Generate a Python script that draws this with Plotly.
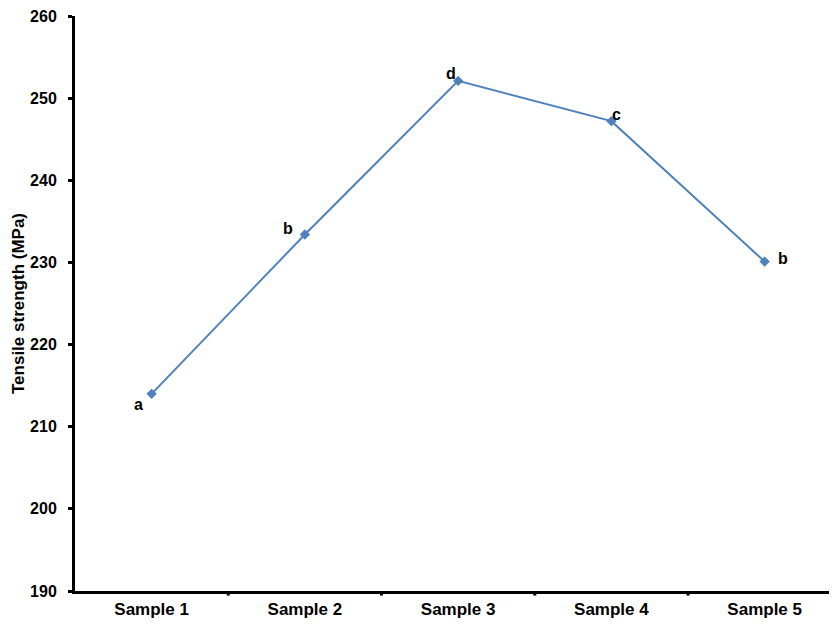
import plotly.graph_objects as go

samples = ["Sample 1", "Sample 2", "Sample 3", "Sample 4", "Sample 5"]
tensile = [214.0, 233.4, 252.1, 247.2, 230.1]
letters = ["a", "b", "d", "c", "b"]
y_ticks = [190, 200, 210, 220, 230, 240, 250, 260]

FONT = "Arial, Liberation Sans, sans-serif"
BLUE = "#4F81BD"

fig = go.Figure()
fig.add_trace(go.Scatter(
    x=list(range(len(samples))), y=tensile, mode="lines+markers",
    line=dict(color=BLUE, width=2),
    marker=dict(symbol="diamond", size=8, color=BLUE),
    showlegend=False, hoverinfo="skip"))

shifts = [(-13, -11), (-17, 6), (-7, 7), (5, 7), (18, 3)]
for i, (lab, (dx, dy)) in enumerate(zip(letters, shifts)):
    fig.add_annotation(x=i, y=tensile[i], text=f"<b>{lab}</b>", showarrow=False,
                       xshift=dx, yshift=dy,
                       font=dict(family=FONT, size=16, color="black"))

# page body has an 8px margin; figure is sized to fill the rest of the window
fig.update_layout(
    width=829, height=616,
    margin=dict(l=67, r=0, t=8, b=33),
    paper_bgcolor="white", plot_bgcolor="white",
    font=dict(family=FONT, color="black"),
)
fig.update_xaxes(
    range=[-0.5, 4.472], tickvals=list(range(len(samples))),
    ticktext=[f"<b>{s}</b>" for s in samples],
    tickfont=dict(size=17, family=FONT, color="black"),
    showline=True, linecolor="black", linewidth=3, showgrid=False, zeroline=False,
    ticks="", ticklabelstandoff=1, automargin=False, ticklabeloverflow="allow",
)
# boundary ticks between categories
for b in [0.5, 1.5, 2.5, 3.5]:
    fig.add_shape(type="line", xref="x", yref="paper", x0=b, x1=b, y0=0, y1=-0.008,
                  line=dict(color="black", width=3))
fig.update_yaxes(
    range=[190, 260], tickvals=y_ticks, ticktext=[f"<b>{v}</b>" for v in y_ticks],
    tickfont=dict(size=16, family=FONT, color="black"),
    showline=True, linecolor="black", linewidth=3, showgrid=False, zeroline=False,
    ticks="outside", ticklen=4, tickwidth=3, tickcolor="black", automargin=False,
    ticklabelstandoff=8, ticklabeloverflow="allow",
    title=dict(text="<b>Tensile strength (MPa)</b>", font=dict(size=17, family=FONT), standoff=2),
)

fig.write_html("out.html")
